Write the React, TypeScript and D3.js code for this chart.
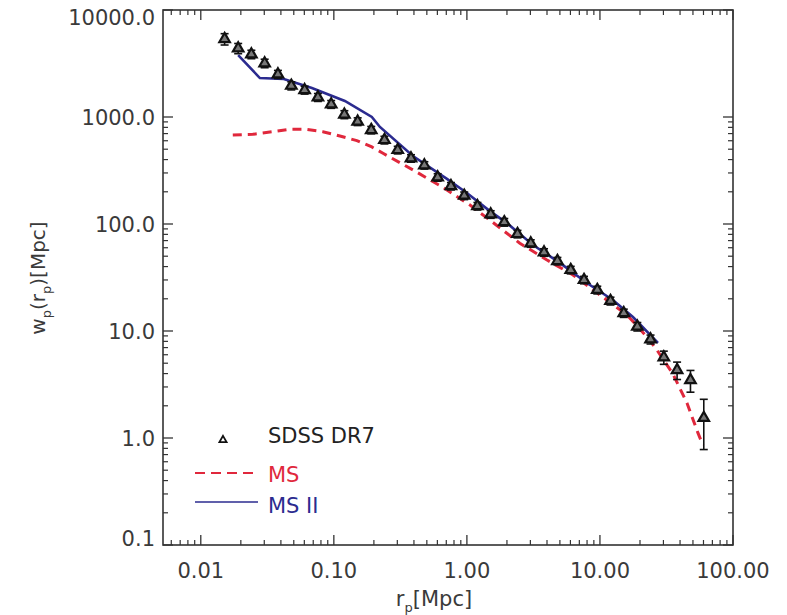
import React from 'react';
import * as d3 from 'd3';

// SDSS DR7 measurements
const sdssR = [0.0151, 0.0191, 0.0240, 0.0302, 0.0380, 0.0479, 0.0603, 0.0759, 0.0955, 0.120,
  0.151, 0.191, 0.240, 0.302, 0.380, 0.479, 0.603, 0.759, 0.955, 1.20,
  1.51, 1.91, 2.40, 3.02, 3.80, 4.79, 6.03, 7.59, 9.55, 12.0,
  15.1, 19.1, 24.0, 30.2, 38.0, 47.9, 60.3];
const sdssWp = [5358, 4385, 3855, 3177, 2506, 1961, 1787, 1528, 1315, 1055,
  907, 756, 610, 492, 411, 354, 273, 226, 184, 147,
  123, 104, 80.7, 65.9, 54.3, 45.1, 37.2, 30.0, 24.2, 19.1,
  14.7, 11.0, 8.36, 5.68, 4.32, 3.48, 1.54];
const sdssErr = [650, 480, 350, 290, 220, 170, 150, 130, 110, 90,
  75, 60, 50, 40, 33, 28, 22, 18, 15, 12,
  10, 8.5, 6.5, 5.3, 4.4, 3.6, 3.0, 2.4, 2.0, 1.6,
  1.3, 1.0, 0.8, 0.8, 0.8, 0.8, 0.76];

// Millennium Simulation (MS)
const msR = [0.0174, 0.0246, 0.0348, 0.0467, 0.0626, 0.0826, 0.111, 0.149, 0.193, 0.234,
  0.393, 0.649, 1.05, 1.68, 2.50, 4.0, 6.27, 10.0, 16.0, 22.5, 26.8, 35.4, 45.1, 54.6, 59.4];
const msWp = [679, 689, 729, 767, 767, 729, 664, 601, 525, 458,
  320, 223, 151, 96.8, 66.1, 46.1, 33.4, 21.7, 14.1, 8.85, 6.64, 3.96, 2.12, 1.11, 0.86];

// Millennium-II Simulation (MS II)
const ms2R = [0.0191, 0.0278, 0.0421, 0.0684, 0.121, 0.193, 0.222, 0.393, 0.708, 1.0,
  1.49, 2.0, 3.14, 5.0, 7.98, 12.5, 17.7, 27.3];
const ms2Wp = [3793, 2312, 2265, 1866, 1413, 1000, 807, 432, 264, 195,
  132, 102, 63.7, 43.3, 28.1, 19.5, 13.5, 7.73];

const xTickVals = [0.01, 0.1, 1, 10, 100];
const xTickLabels = ['0.01', '0.10', '1.00', '10.00', '100.00'];
const yTickVals = [0.1, 1, 10, 100, 1000, 10000];
const yTickLabels = ['0.1', '1.0', '10.0', '100.0', '1000.0', '10000.0'];

const W = 787, H = 615;
const L = 163, R = 733, T = 10, B = 545;
const FONT = '"DejaVu Sans", sans-serif';
const TXT = '#3a3a3a';
const AX = '#333';

export default function App() {
  const x = d3.scaleLog().domain([0.0052, 100]).range([L, R]);
  const y = d3.scaleLog().domain([0.1, 10000]).range([B, T]);

  const line = d3.line<[number, number]>().x(d => x(d[0])).y(d => y(d[1]));
  const msPath = line(msR.map((r, i) => [r, msWp[i]] as [number, number])) || '';
  const ms2Path = line(ms2R.map((r, i) => [r, ms2Wp[i]] as [number, number])) || '';
  const tri = d3.symbol(d3.symbolTriangle, 48)() || '';
  const triSmall = d3.symbol(d3.symbolTriangle, 22)() || '';

  // minor ticks
  const xMinor: number[] = [];
  const yMinor: number[] = [];
  for (let e = -3; e <= 2; e++) {
    for (let k = 2; k <= 9; k++) {
      const v = k * Math.pow(10, e);
      if (v >= 0.0052 && v <= 100) xMinor.push(v);
      if (v >= 0.1 && v <= 10000) yMinor.push(v);
    }
  }

  return (
    <svg width={W} height={H} style={{ position: 'fixed', left: 0, top: 0, background: '#fff' }}
      fontFamily={FONT}>
      <rect x={0} y={0} width={W} height={H} fill="#fff" />
      {/* frame */}
      <rect x={L} y={T} width={R - L} height={B - T} fill="none" stroke={AX} strokeWidth={1.6} />
      {/* x ticks */}
      {xTickVals.map((v, i) => (
        <g key={'xt' + i}>
          <line x1={x(v)} x2={x(v)} y1={B} y2={B - 10} stroke={AX} strokeWidth={1.3} />
          <line x1={x(v)} x2={x(v)} y1={T} y2={T + 10} stroke={AX} strokeWidth={1.3} />
          <text x={x(v)} y={571} textAnchor="middle" dominantBaseline="central" fontSize={21} fill={TXT}>
            {xTickLabels[i]}
          </text>
        </g>
      ))}
      {xMinor.map((v, i) => (
        <g key={'xm' + i}>
          <line x1={x(v)} x2={x(v)} y1={B} y2={B - 5} stroke={AX} strokeWidth={1.2} />
          <line x1={x(v)} x2={x(v)} y1={T} y2={T + 5} stroke={AX} strokeWidth={1.2} />
        </g>
      ))}
      {/* y ticks */}
      {yTickVals.map((v, i) => (
        <g key={'yt' + i}>
          <line x1={L} x2={L + 10} y1={y(v)} y2={y(v)} stroke={AX} strokeWidth={1.3} />
          <line x1={R} x2={R - 10} y1={y(v)} y2={y(v)} stroke={AX} strokeWidth={1.3} />
          <text x={155} y={Math.min(Math.max(y(v) + 1, T + 8), B - 6)} textAnchor="end"
            dominantBaseline="central" fontSize={21} fill={TXT}>
            {yTickLabels[i]}
          </text>
        </g>
      ))}
      {yMinor.map((v, i) => (
        <g key={'ym' + i}>
          <line x1={L} x2={L + 5} y1={y(v)} y2={y(v)} stroke={AX} strokeWidth={1.2} />
          <line x1={R} x2={R - 5} y1={y(v)} y2={y(v)} stroke={AX} strokeWidth={1.2} />
        </g>
      ))}
      {/* axis titles */}
      <text x={434} y={606} textAnchor="middle" fontSize={21} fill={TXT}>
        <tspan>r</tspan>
        <tspan fontSize={13} dy={6}>p</tspan>
        <tspan dy={-6}>[Mpc]</tspan>
      </text>
      <text transform="translate(45,278) rotate(-90)" textAnchor="middle" fontSize={20} fill={TXT}>
        <tspan>w</tspan>
        <tspan fontSize={13} dy={6}>p</tspan>
        <tspan dy={-6}>(</tspan>
        <tspan>r</tspan>
        <tspan fontSize={13} dy={6}>p</tspan>
        <tspan dy={-6}>)[Mpc]</tspan>
      </text>

      {/* MS dashed */}
      <path d={msPath} fill="none" stroke="#e0283c" strokeWidth={3} strokeDasharray="9,6" />
      {/* MS II */}
      <path d={ms2Path} fill="none" stroke="#2b2b8f" strokeWidth={2.6} />

      {/* SDSS points */}
      {sdssR.map((r, i) => {
        const cx = x(r), cy = y(sdssWp[i]);
        const y1 = y(sdssWp[i] + sdssErr[i]);
        const y2 = y(Math.max(sdssWp[i] - sdssErr[i], 0.11));
        return (
          <g key={'p' + i}>
            <line x1={cx} x2={cx} y1={y1} y2={y2} stroke="#111" strokeWidth={1.6} />
            <line x1={cx - 4} x2={cx + 4} y1={y1} y2={y1} stroke="#111" strokeWidth={1.6} />
            <line x1={cx - 4} x2={cx + 4} y1={y2} y2={y2} stroke="#111" strokeWidth={1.6} />
            <path d={tri} transform={`translate(${cx},${cy})`} fill="#777" stroke="#111" strokeWidth={2.2} />
          </g>
        );
      })}

      {/* legend */}
      <path d={triSmall} transform="translate(223,440)" fill="none" stroke="#111" strokeWidth={1.8} />
      <text x={268} y={443} fontSize={21} fill="#222">SDSS DR7</text>
      <line x1={195} x2={258} y1={473} y2={473} stroke="#e0283c" strokeWidth={2} strokeDasharray="10,6" />
      <text x={268} y={482} fontSize={21} fill="#e0283c">MS</text>
      <line x1={195} x2={258} y1={502} y2={502} stroke="#2b2b8f" strokeWidth={1.6} />
      <text x={268} y={513} fontSize={21} fill="#2b2b8f">MS II</text>
    </svg>
  );
}
